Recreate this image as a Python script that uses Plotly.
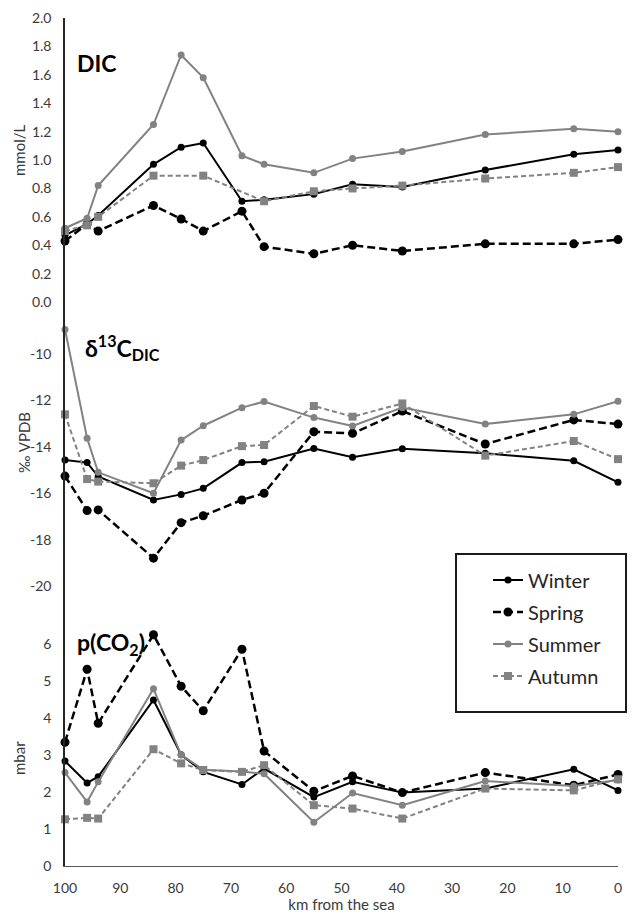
import plotly.graph_objects as go

# ---------------- data ----------------
km = [100, 96, 94, 84, 79, 75, 68, 64, 55, 48, 39, 24, 8, 0]

dic_winter = [0.47, 0.55, 0.61, 0.97, 1.09, 1.12, 0.71, 0.72, 0.76, 0.83, 0.81, 0.93, 1.04, 1.07]
dic_spring = [0.43, 0.55, 0.50, 0.68, 0.585, 0.50, 0.64, 0.39, 0.34, 0.40, 0.36, 0.41, 0.41, 0.44]
dic_summer = [0.52, 0.59, 0.82, 1.25, 1.74, 1.58, 1.03, 0.97, 0.91, 1.01, 1.06, 1.18, 1.22, 1.20]
dic_autumn = [0.50, 0.54, 0.60, 0.89, None, 0.89, None, 0.71, 0.78, 0.80, 0.82, 0.87, 0.91, 0.95]

d13c_winter = [-14.57, -14.68, -15.28, -16.29, -16.05, -15.79, -14.68, -14.64, -14.07, -14.45, -14.08, -14.28, -14.60, -15.53]
d13c_spring = [-15.26, -16.75, -16.72, -18.80, -17.27, -16.97, -16.29, -16.00, -13.35, -13.42, -12.46, -13.88, -12.84, -13.02]
d13c_summer = [-8.94, -13.63, -15.10, -16.00, -13.71, -13.09, -12.31, -12.05, -12.74, -13.10, -12.31, -13.02, -12.60, -12.03]
d13c_autumn = [-12.60, -15.39, -15.50, -15.57, -14.81, -14.57, -13.97, -13.92, -12.24, -12.70, -12.13, -14.38, -13.75, -14.53]

pco2_winter = [2.83, 2.24, 2.41, 4.48, 3.00, 2.54, 2.20, 2.63, 1.86, 2.27, 1.98, 2.09, 2.61, 2.04]
pco2_spring = [3.34, 5.31, 3.85, 6.24, 4.85, 4.19, 5.85, 3.10, 2.02, 2.43, 1.98, 2.52, 2.18, 2.47]
pco2_summer = [2.52, 1.73, 2.27, 4.78, 3.00, 2.60, 2.55, 2.49, 1.18, 1.97, 1.64, 2.29, 2.16, 2.32]
pco2_autumn = [1.26, 1.30, 1.28, 3.15, 2.77, 2.59, 2.54, 2.72, 1.64, 1.55, 1.28, 2.09, 2.04, 2.34]

seasons = ["Winter", "Spring", "Summer", "Autumn"]
x_ticks = [100, 90, 80, 70, 60, 50, 40, 30, 20, 10, 0]
dic_ticks = [0.0, 0.2, 0.4, 0.6, 0.8, 1.0, 1.2, 1.4, 1.6, 1.8, 2.0]
dic_ticktext = ["0.0", "0.2", "0.4", "0.6", "0.8", "1.0", "1.2", "1.4", "1.6", "1.8", "2.0"]
d13c_ticks = [-20, -18, -16, -14, -12, -10]
d13c_ticktext = ["-20", "-18", "-16", "-14", "-12", "-10"]
pco2_ticks = [0, 1, 2, 3, 4, 5, 6]

# ---------------- styles ----------------
BLACK = "#000000"
GRAY = "#828282"
style = {
    "Winter": dict(line=dict(color=BLACK, width=2), marker=dict(symbol="circle", size=7, color=BLACK)),
    "Spring": dict(line=dict(color=BLACK, width=2.5, dash="8px,4px"), marker=dict(symbol="circle", size=9, color=BLACK)),
    "Summer": dict(line=dict(color=GRAY, width=2), marker=dict(symbol="circle", size=7, color=GRAY)),
    "Autumn": dict(line=dict(color=GRAY, width=2, dash="5px,3px"), marker=dict(symbol="square", size=8, color=GRAY)),
}

panels = [
    ("y", [dic_winter, dic_spring, dic_summer, dic_autumn]),
    ("y2", [d13c_winter, d13c_spring, d13c_summer, d13c_autumn]),
    ("y3", [pco2_winter, pco2_spring, pco2_summer, pco2_autumn]),
]

fig = go.Figure()
for pi, (yax, series) in enumerate(panels):
    for s, vals in zip(seasons, series):
        fig.add_trace(go.Scatter(
            x=km, y=vals, mode="lines+markers", name=s,
            xaxis="x", yaxis=yax, legendgroup=s, showlegend=(pi == 0),
            connectgaps=True, cliponaxis=False,
            line=style[s]["line"], marker=style[s]["marker"],
        ))

FONT = "Lato, 'Open Sans', sans-serif"
TICKC = "#3a3a3a"
W, H = 634, 913
ML, MR, MT, MB = 65, 16, 18, 47
ph = H - MT - MB
pw = W - ML - MR

def ypaper(py):  # screen pixel -> paper
    return (H - MB - py) / ph

def xpaper(px):
    return (px - ML) / pw

yaxis_common = dict(
    showgrid=False, zeroline=False, showline=True, linecolor="#262626", linewidth=1.5,
    ticks="", tickfont=dict(family=FONT, size=14, color=TICKC), ticklabelstandoff=9,
    anchor="x", automargin=False,
)

fig.update_layout(
    width=W, height=H,
    margin=dict(l=ML, r=MR, t=MT, b=MB, autoexpand=False),
    paper_bgcolor="white", plot_bgcolor="white",
    font=dict(family=FONT, color=TICKC),
    xaxis=dict(range=[100, 0], tickvals=x_ticks, showgrid=False, zeroline=False,
               showline=True, linecolor="#595959", linewidth=1, ticks="",
               tickfont=dict(family=FONT, size=14, color=TICKC), ticklabelstandoff=9,
               anchor="y3", automargin=False,
               title=dict(text="km from the sea", font=dict(family=FONT, size=15, color=TICKC), standoff=8)),
    yaxis=dict(domain=[0.665, 1.0], range=[0, 2.0], tickvals=dic_ticks, ticktext=dic_ticktext, **yaxis_common),
    yaxis2=dict(domain=[0.302, 0.665], range=[-21.03, -7.76], tickvals=d13c_ticks, ticktext=d13c_ticktext, **yaxis_common),
    yaxis3=dict(domain=[0.0, 0.302], range=[0, 6.91], tickvals=pco2_ticks, **yaxis_common),
    legend=dict(x=xpaper(488), y=ypaper(560.5), xanchor="left", yanchor="top",
                bgcolor="rgba(0,0,0,0)", borderwidth=0,
                font=dict(family=FONT, size=20, color="#262626"),
                traceorder="grouped", tracegroupgap=3, itemwidth=30),
    showlegend=True,
)

# legend frame
fig.add_shape(type="rect", xref="paper", yref="paper",
              x0=xpaper(456), x1=xpaper(626), y0=ypaper(712), y1=ypaper(554),
              line=dict(color="#1a1a1a", width=2), fillcolor="rgba(0,0,0,0)", layer="below")

# panel labels
lab_font = dict(family=FONT, size=23, color="#000000")
fig.add_annotation(text="<b>DIC</b>", xref="paper", yref="paper", x=xpaper(75), y=ypaper(63),
                   xanchor="left", yanchor="middle", showarrow=False, font=lab_font)
fig.add_annotation(text="<b>δ<sup>13</sup>C<sub>DIC</sub></b>", xref="paper", yref="paper",
                   x=xpaper(83), y=ypaper(347), xanchor="left", yanchor="middle", showarrow=False, font=lab_font)
fig.add_annotation(text="<b>p(CO<sub>2</sub>)</b>", xref="paper", yref="paper",
                   x=xpaper(75), y=ypaper(643), xanchor="left", yanchor="middle", showarrow=False, font=lab_font)

# axis titles
tfont = dict(family=FONT, size=15, color=TICKC)
fig.add_annotation(text="mmol/L", xref="paper", yref="paper", x=xpaper(19), y=ypaper(150),
                   xanchor="center", yanchor="middle", textangle=-90, showarrow=False, font=tfont)
fig.add_annotation(text="‰ VPDB", xref="paper", yref="paper", x=xpaper(24), y=ypaper(443),
                   xanchor="center", yanchor="middle", textangle=-90, showarrow=False, font=tfont)
fig.add_annotation(text="mbar", xref="paper", yref="paper", x=xpaper(19), y=ypaper(758),
                   xanchor="center", yanchor="middle", textangle=-90, showarrow=False, font=tfont)

# remove the default page margin so the figure sits at the window origin
fig.write_html("out.html", config={"displayModeBar": False},
               post_script="document.body.style.margin='0px';")
